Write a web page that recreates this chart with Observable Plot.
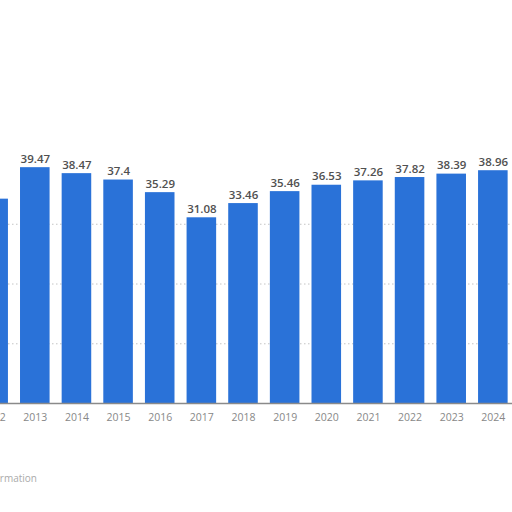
<!DOCTYPE html>
<html>
<head>
<meta charset="utf-8">
<script src="https://cdn.jsdelivr.net/npm/d3@7"></script>
<script src="https://cdn.jsdelivr.net/npm/@observablehq/plot@0.6"></script>
<style>
  html, body { margin: 0; padding: 0; background: #fff; }
  #chart svg { display: block; overflow: hidden; }
</style>
</head>
<body>
<div id="chart"></div>
<script>
const years = ["2012","2013","2014","2015","2016","2017","2018","2019","2020","2021","2022","2023","2024"];
const values = [34.2, 39.47, 38.47, 37.4, 35.29, 31.08, 33.46, 35.46, 36.53, 37.26, 37.82, 38.39, 38.96];
const labels = ["", "39.47", "38.47", "37.4", "35.29", "31.08", "33.46", "35.46", "36.53", "37.26", "37.82", "38.39", "38.96"];
const gridTicks = [10, 20, 30];
const footnote = ["Additional Information"];

const data = years.map((y, i) => ({year: y, value: values[i], label: labels[i]}));

const chart = Plot.plot({
  width: 512,
  height: 512,
  marginTop: 164,
  marginBottom: 109,
  marginLeft: 0,
  marginRight: 0,
  style: {fontFamily: "'Open Sans', 'DejaVu Sans', sans-serif", background: "#fff"},
  x: {domain: years, range: [-33.7, 519.7], padding: 0.29, round: false, label: null},
  y: {domain: [0, 40], axis: null, label: null},
  marks: [
    Plot.ruleY(gridTicks, {stroke: "#c4c4c4", strokeDasharray: "1.5,2.5", strokeWidth: 1}),
    Plot.barY(data, {x: "year", y: "value", fill: "#2a72d8"}),
    Plot.ruleY([0], {stroke: "#8a8a8a", strokeWidth: 1.5}),
    Plot.text(data, {x: "year", y: "value", text: "label", lineAnchor: "bottom", dy: -5,
      fill: "#505050", fontSize: 11.5, fontWeight: 600}),
    Plot.axisX({tickSize: 0, tickPadding: 10, fontSize: 10.5, color: "#888", label: null}),
    Plot.text(footnote, {frameAnchor: "bottom-left", dx: -69, dy: 75, textAnchor: "start",
      lineAnchor: "middle", fill: "#aaa", fontSize: 10})
  ]
});
document.getElementById("chart").appendChild(chart);
</script>
</body>
</html>
